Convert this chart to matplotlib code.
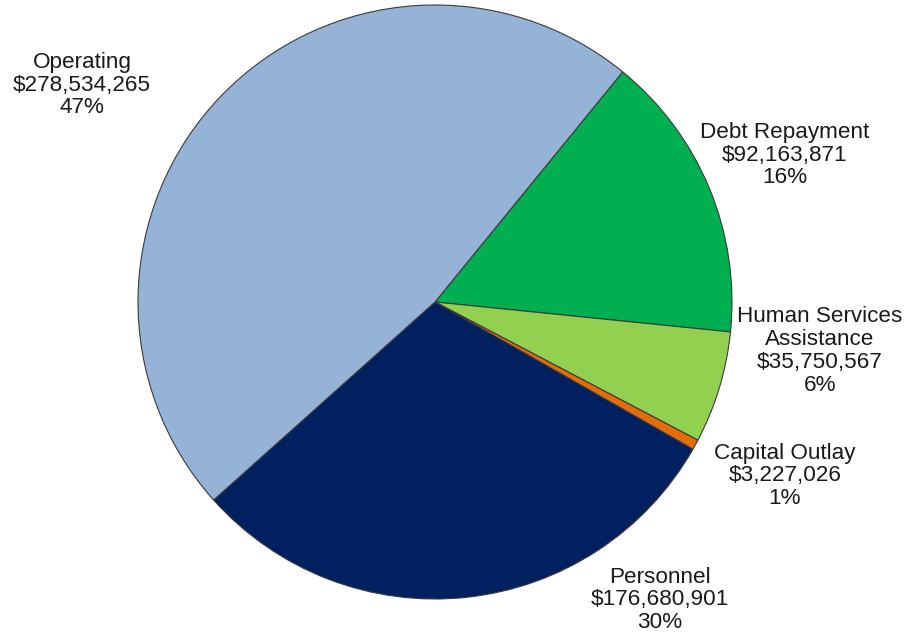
import matplotlib
matplotlib.use("Agg")
import matplotlib.pyplot as plt

plt.rcParams['font.family'] = ['Liberation Sans', 'DejaVu Sans']

# budget categories, in the order they are drawn (clockwise from the top right)
categories = ["Debt Repayment", "Human Services\nAssistance", "Capital Outlay",
              "Personnel", "Operating"]
amounts = [92163871, 35750567, 3227026, 176680901, 278534265]
percents = [16, 6, 1, 30, 47]
colors = ["#00B050", "#92D050", "#E46C0A", "#002060", "#95B3D7"]

# label anchor points in pixels (x from left, y from top)
label_pos = [(785, 155), (820, 351), (785, 476), (660, 600), (82, 85)]

W, H = 909, 638
fig = plt.figure(figsize=(W / 100, H / 100), dpi=100)
ax = fig.add_axes([0, 0, 1, 1])

ax.pie(amounts, colors=colors, startangle=50.8, counterclock=False,
       center=(435, H - 302), radius=297,
       wedgeprops=dict(edgecolor="#3a3a3a", linewidth=0.8))
ax.set_xlim(0, W)
ax.set_ylim(0, H)
ax.set_aspect("equal")
ax.axis("off")

for name, val, pct, (x, y) in zip(categories, amounts, percents, label_pos):
    txt = f"{name}\n${val:,}\n{pct}%"
    ax.text(x, H - y, txt, ha="center", va="center", fontsize=16.2,
            color="#1a1a1a", linespacing=1.12)

fig.savefig("out.png", dpi=100, facecolor="white")
